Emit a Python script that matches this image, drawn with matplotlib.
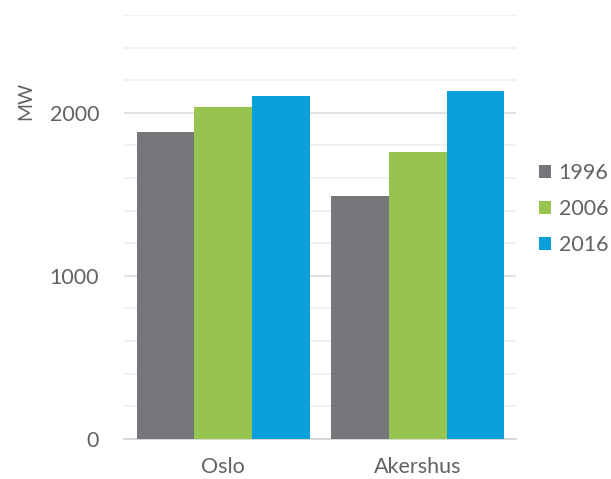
import numpy as np
import matplotlib
matplotlib.use("Agg")
import matplotlib.pyplot as plt

regions = ["Oslo", "Akershus"]
years = ["1996", "2006", "2016"]
mw_1996 = [1885, 1492]
mw_2006 = [2033, 1762]
mw_2016 = [2106, 2135]
series = [mw_1996, mw_2006, mw_2016]
colors = ["#76777b", "#97c34f", "#08a0d8"]
tick_values = [0, 1000, 2000]
tick_labels = ["0", "1000", "2000"]

plt.rcParams["font.family"] = ["Lato", "DejaVu Sans"]
text_color = "#626262"

fig = plt.figure(figsize=(6.11, 4.79), dpi=100)
ax = fig.add_axes([0.203, 0.0841, 0.6415, 0.8846])

x = np.arange(len(regions))
width = 0.296
for i, (vals, col, yr) in enumerate(zip(series, colors, years)):
    ax.bar(x + (i - 1) * width, vals, width, color=col, label=yr, zorder=3,
           linewidth=0)

ax.set_xlim(-0.51, 1.505)
ax.set_ylim(0, 2600)

# light minor grid every 200, slightly stronger at each 1000
for v in range(200, 2601, 200):
    c = "#dcdcdc" if v % 1000 == 0 else "#efefef"
    ax.axhline(v, color=c, linewidth=1.2, zorder=1)

ax.set_yticks(tick_values)
ax.set_yticklabels(tick_labels)
ax.set_xticks(x)
ax.set_xticklabels(regions)
ax.tick_params(axis="both", length=0, labelsize=15.5, colors=text_color)
ax.tick_params(axis="y", pad=18)
ax.tick_params(axis="x", pad=13)

for side in ["left", "right", "top"]:
    ax.spines[side].set_visible(False)
ax.spines["bottom"].set_color("#d0d0d0")
ax.spines["bottom"].set_linewidth(1.2)

fig.text(0.042, 0.79, "MW", rotation=90, ha="center", va="center",
         fontsize=14, color=text_color)

leg = ax.legend(loc="center left", bbox_to_anchor=(1.01, 0.542), frameon=False,
                fontsize=15.5, handlelength=0.55, handleheight=0.55,
                handletextpad=0.35, labelspacing=0.75)
for t in leg.get_texts():
    t.set_color(text_color)

fig.savefig("out.png", dpi=100)
